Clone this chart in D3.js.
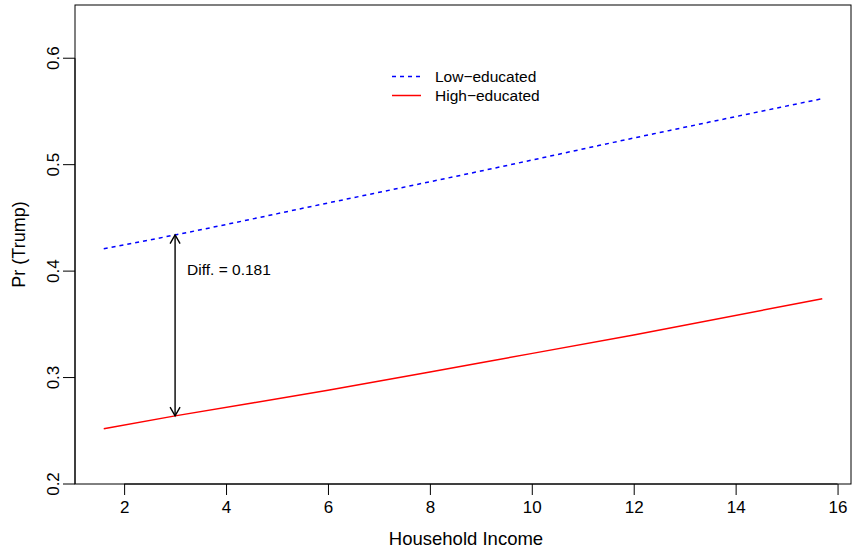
<!DOCTYPE html>
<html>
<head>
	<meta charset="utf-8">
	<title>Pr (Trump) by income</title>
	<script src="https://d3js.org/d3.v7.min.js"></script>
	<style type="text/css">
		body { margin: 0; background: #fff; }
		svg text { font-family: 'Liberation Sans', Arial, sans-serif; fill: #000; }
	</style>
</head>
<body>
	<script type="text/javascript">
		// values
		var income = [1.6, 3, 6, 9, 12, 15.7];
		var lowEdu = [0.421, 0.434, 0.464, 0.494, 0.525, 0.562];
		var highEdu = [0.252, 0.264, 0.288, 0.314, 0.340, 0.374];
		var xTicks = [2, 4, 6, 8, 10, 12, 14, 16];
		var yTicks = [0.2, 0.3, 0.4, 0.5, 0.6];
		var legendLabels = ['Low\u2212educated', 'High\u2212educated'];
		var diffAt = 3;
		var diffLabel = 'Diff. = 0.181';

		var w = 852, h = 550;
		// plot box (note: "top" is reserved on window, so use a prefix)
		var boxL = 75, boxR = 851, boxT = 5, boxB = 484;

		var svg = d3.select('body').append('svg')
			.attr('width', w)
			.attr('height', h);

		// R-style 4% padding on x
		var xr = d3.extent(income);
		var pad = (xr[1] - xr[0]) * 0.04;
		var x = d3.scaleLinear().domain([xr[0] - pad, xr[1] + pad]).range([boxL, boxR]);
		var y = d3.scaleLinear().domain([0.2, 0.65]).range([boxB, boxT]);

		svg.append('rect')
			.attr('x', boxL).attr('y', boxT)
			.attr('width', boxR - boxL).attr('height', boxB - boxT)
			.attr('fill', 'none').attr('stroke', '#000').attr('stroke-width', 1);

		// axes
		var xAxis = svg.append('g')
			.attr('transform', 'translate(0,' + boxB + ')')
			.call(d3.axisBottom(x).tickValues(xTicks).tickSize(11).tickPadding(6).tickFormat(d3.format('d')));
		xAxis.select('.domain').attr('d', 'M' + x(2) + ',0H' + x(16)).attr('stroke', '#000');
		xAxis.selectAll('text').attr('font-size', 17).attr('fill', '#000');
		xAxis.selectAll('line').attr('stroke', '#000');

		var yAxis = svg.append('g')
			.attr('transform', 'translate(' + boxL + ',0)')
			.call(d3.axisLeft(y).tickValues(yTicks).tickSize(12).tickFormat(d3.format('.1f')));
		yAxis.select('.domain').attr('d', 'M0,' + y(0.2) + 'V' + y(0.6)).attr('stroke', '#000');
		yAxis.selectAll('line').attr('stroke', '#000');
		yAxis.selectAll('.tick').attr('transform', null);
		yAxis.selectAll('.tick line').attr('y1', function (d) { return y(d); }).attr('y2', function (d) { return y(d); });
		yAxis.selectAll('text')
			.attr('font-size', 17).attr('fill', '#000')
			.attr('x', null).attr('dy', null)
			.attr('text-anchor', 'middle')
			.attr('transform', function (d) { return 'translate(-16,' + y(d) + ') rotate(-90)'; });

		svg.append('text')
			.attr('x', (boxL + boxR) / 2 + 3).attr('y', 545)
			.attr('text-anchor', 'middle').attr('font-size', 18.5)
			.text('Household Income');

		svg.append('text')
			.attr('transform', 'translate(25,' + (boxT + boxB) / 2 + ') rotate(-90)')
			.attr('text-anchor', 'middle').attr('font-size', 18)
			.text('Pr (Trump)');

		// lines
		var line = d3.line()
			.x(function (d) { return x(d[0]); })
			.y(function (d) { return y(d[1]); })
			.curve(d3.curveMonotoneX);

		svg.append('path')
			.datum(d3.zip(income, lowEdu))
			.attr('d', line)
			.attr('fill', 'none').attr('stroke', '#0000ff').attr('stroke-width', 1.5)
			.attr('stroke-dasharray', '4,4');

		svg.append('path')
			.datum(d3.zip(income, highEdu))
			.attr('d', line)
			.attr('fill', 'none').attr('stroke', '#ff0000').attr('stroke-width', 1.5);

		// difference arrow
		var i = income.indexOf(diffAt);
		var ax = x(diffAt), y1 = y(lowEdu[i]), y2 = y(highEdu[i]);
		var ah = 10, aw = 5;
		var arrow = svg.append('g').attr('stroke', '#000').attr('stroke-width', 1.4).attr('fill', 'none');
		arrow.append('line').attr('x1', ax).attr('x2', ax).attr('y1', y1).attr('y2', y2);
		arrow.append('path').attr('d', 'M' + (ax - aw) + ',' + (y1 + ah * 0.87) + 'L' + ax + ',' + y1 + 'L' + (ax + aw) + ',' + (y1 + ah * 0.87));
		arrow.append('path').attr('d', 'M' + (ax - aw) + ',' + (y2 - ah * 0.87) + 'L' + ax + ',' + y2 + 'L' + (ax + aw) + ',' + (y2 - ah * 0.87));

		svg.append('text')
			.attr('x', ax + 12).attr('y', 275)
			.attr('font-size', 15.5)
			.text(diffLabel);

		// legend
		var legend = svg.append('g').attr('transform', 'translate(392,0)');
		var rows = [
			{ label: legendLabels[0], color: '#0000ff', dash: '4,4', ly: 76.5 },
			{ label: legendLabels[1], color: '#ff0000', dash: null, ly: 95.5 }
		];
		rows.forEach(function (r) {
			legend.append('line')
				.attr('x1', 0).attr('x2', 29).attr('y1', r.ly).attr('y2', r.ly)
				.attr('stroke', r.color).attr('stroke-width', 1.5)
				.attr('stroke-dasharray', r.dash);
			legend.append('text')
				.attr('x', 43).attr('y', r.ly + 5.5)
				.attr('font-size', 15.5)
				.text(r.label);
		});
	</script>
</body>
</html>
